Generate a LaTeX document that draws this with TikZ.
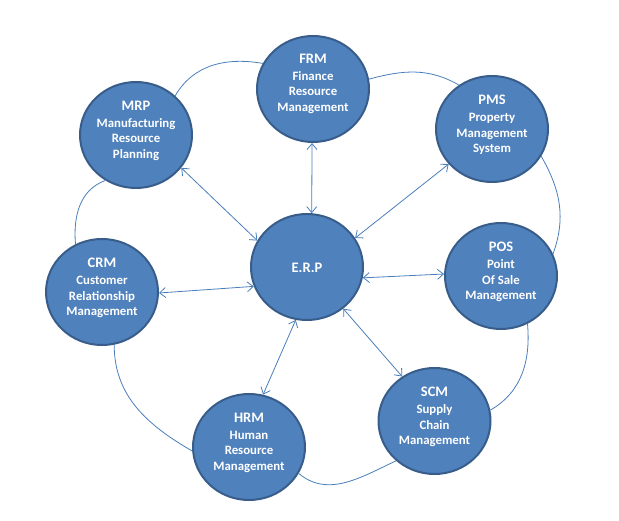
\documentclass[tikz,border=0pt]{standalone}
\usepackage{fontspec}
\setmainfont{Carlito}
\usetikzlibrary{shapes.geometric,arrows.meta}
\definecolor{bfill}{HTML}{4F81BD}
\definecolor{bdraw}{HTML}{385D8A}
\definecolor{lcol}{HTML}{4A7EBB}
\tikzset{
  bub/.style={ellipse,draw=bdraw,fill=bfill,line width=2pt,minimum width=112pt,minimum height=106pt,inner sep=0pt},
  btxt/.style={text=white,align=center,font=\bfseries\fontsize{12.8}{15.7}\selectfont,inner sep=0pt},
  ttl/.style={},
  dbl/.style={draw=lcol,line width=0.8pt,{Straight Barb[length=6pt,width=10pt]}-{Straight Barb[length=6pt,width=10pt]}},
  ring/.style={draw=lcol,line width=0.8pt}
}
\newcommand{\ttlfont}{\fontsize{14.5}{17}\selectfont}
\begin{document}
\begin{tikzpicture}[x=1pt,y=-1pt]
\useasboundingbox (0,0) rectangle (619,521);
\node[bub] (frm) at (313,89) {};
\node[bub] (mrp) at (136,135) {};
\node[bub] (pms) at (492,129) {};
\node[bub] (erp) at (307,267) {};
\node[bub] (crm) at (102,292) {};
\node[bub] (pos) at (501,276) {};
\node[bub] (scm) at (434.5,421) {};
\node[bub] (hrm) at (249,447) {};
\node[btxt] (frmt) at (313,84) {{\ttlfont FRM}\\[1pt]Finance\\Resource\\Management};
\node[btxt] (mrpt) at (136,131) {{\ttlfont MRP}\\[1pt]Manufacturing\\Resource\\Planning};
\node[btxt] (pmst) at (492,125) {{\ttlfont PMS}\\[1pt]Property\\Management\\System};
\node[btxt] (erpt) at (307,268) {{\ttlfont E.R.P}};
\node[btxt] (crmt) at (102,288) {{\ttlfont CRM}\\[1pt]Customer\\Relationship\\Management};
\node[btxt] (post) at (501,272) {{\ttlfont POS}\\[1pt]Point\\Of Sale\\Management};
\node[btxt] (scmt) at (434.5,417) {{\ttlfont SCM}\\[1pt]Supply\\Chain\\Management};
\node[btxt] (hrmt) at (249,443) {{\ttlfont HRM}\\[1pt]Human\\Resource\\Management};
% spokes
\draw[dbl] (frm.-91) -- (erp.85);
\draw[dbl] (mrp.-36) -- (erp.152);
\draw[dbl] (pms.-141) -- (erp.31);
\draw[dbl] (crm.-1) -- (erp.200);
\draw[dbl] (pos.178) -- (erp.-11);
\draw[dbl] (hrm.75) -- (erp.-102);
\draw[dbl] (scm.126) -- (erp.-49);
% ring
\draw[ring] (mrp.45) to[out=60,in=170] (frm.153);
\draw[ring] (frm.10) to[out=15,in=150] (pms.127);
\draw[ring] (pms.-29) to[out=-60,in=70] (pos.23);
\draw[ring] (pos.-61) to[out=-85,in=30] (scm.11);
\draw[ring] (scm.-134) to[out=-155,in=-40] (hrm.-28);
\draw[ring] (hrm.184) to[out=150,in=-90] (crm.-77);
\draw[ring] (crm.119) to[out=95,in=200] (mrp.-124);
\end{tikzpicture}
\end{document}
